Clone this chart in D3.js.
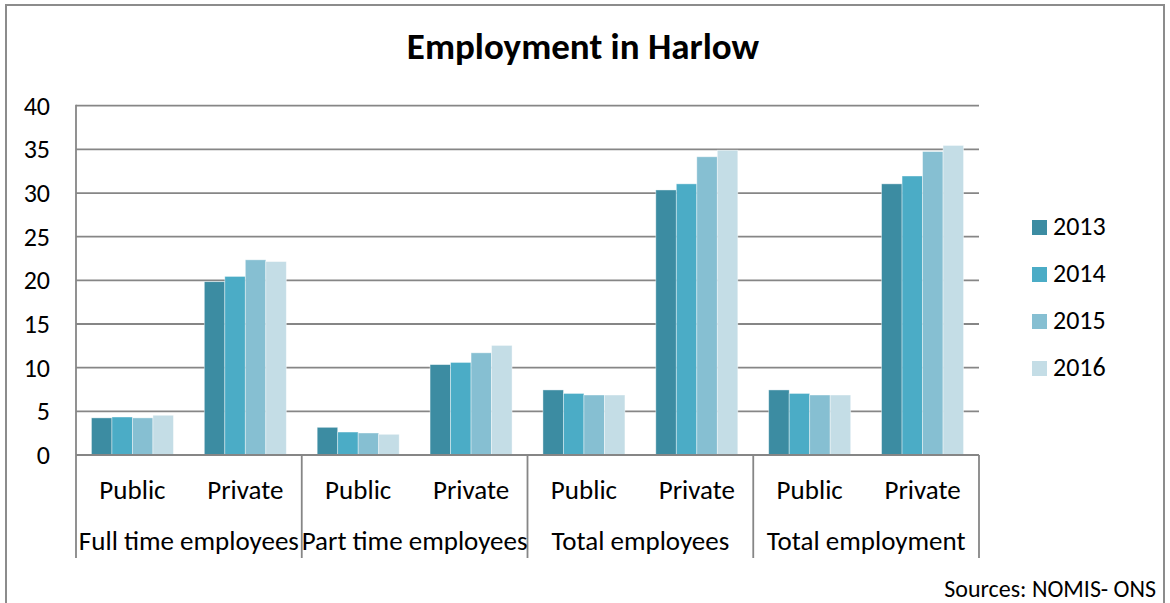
<!DOCTYPE html>
<html>
<head>
<meta charset="utf-8">
<script src="https://cdn.jsdelivr.net/npm/d3@7"></script>
<style>
  body { margin: 0; background: #fff; }
  svg text { font-family: Carlito, Lato, "Open Sans", sans-serif; fill: #000; }
</style>
</head>
<body>
<svg id="chart" width="1170" height="603"></svg>
<script>
// employment counts (thousands)
const groups = ["Full time employees", "Part time employees", "Total employees", "Total employment"]
const sectors = ["Public", "Private"]
const years = ["2013", "2014", "2015", "2016"]
const colors = ["#3c8ca2", "#4bacc6", "#86bfd2", "#c4dde6"]
const yTicks = [0, 5, 10, 15, 20, 25, 30, 35, 40]

// one array per year, order: group x sector
const v2013 = [4.25, 19.85, 3.17, 10.35, 7.45, 30.35, 7.45, 31.05]
const v2014 = [4.35, 20.45, 2.63, 10.6, 7.05, 31.05, 7.05, 31.95]
const v2015 = [4.25, 22.35, 2.52, 11.7, 6.87, 34.15, 6.87, 34.75]
const v2016 = [4.55, 22.15, 2.37, 12.55, 6.87, 34.9, 6.87, 35.45]
const series = [v2013, v2014, v2015, v2016]

const svg = d3.select("#chart")
const margin = {left: 76, right: 191, top: 105.7, bottom: 148}
const W = 1170, H = 603
const plotR = W - margin.right
const plotB = H - margin.bottom

// outer frame (bottom edge falls outside the picture)
svg.append("path")
  .attr("d", `M6,${H + 5}V5H1164V${H + 5}`)
  .attr("fill", "none").attr("stroke", "#8c8c8c").attr("stroke-width", 2)

svg.append("text")
  .attr("x", 583).attr("y", 59)
  .attr("text-anchor", "middle")
  .style("font-size", "37px").style("font-weight", "bold")
  .text("Employment in Harlow")

const y = d3.scaleLinear().domain([0, 40]).range([plotB, margin.top])
const xGroup = d3.scaleBand().domain(groups).range([margin.left, plotR])
const xSector = d3.scaleBand().domain(sectors).range([0, xGroup.bandwidth()])
const pad = (xSector.bandwidth() - 82) / 2
const xYear = d3.scaleBand().domain(years).range([pad, xSector.bandwidth() - pad])

// gridlines
svg.append("g")
  .selectAll("line").data(yTicks).join("line")
  .attr("x1", margin.left).attr("x2", plotR)
  .attr("y1", d => y(d)).attr("y2", d => y(d))
  .attr("stroke", "#868686").attr("stroke-width", 1.8)

const yAxis = svg.append("g")
  .attr("transform", `translate(${margin.left},0)`)
  .call(d3.axisLeft(y).tickValues(yTicks).tickSize(0).tickPadding(26))
yAxis.select(".domain").remove()
yAxis.selectAll("text").style("font-size", "26px")
  .attr("font-family", null)

// bars
const rows = []
groups.forEach((g, gi) => sectors.forEach((s, si) => {
  years.forEach((yr, yi) => rows.push({g, s, yr, yi, v: series[yi][gi * 2 + si]}))
}))

svg.append("g").selectAll("rect").data(rows).join("rect")
  .attr("x", d => xGroup(d.g) + xSector(d.s) + xYear(d.yr))
  .attr("width", xYear.bandwidth())
  .attr("y", d => y(d.v))
  .attr("height", d => y(0) - y(d.v))
  .attr("fill", d => colors[d.yi])
  .attr("stroke", "#ffffff").attr("stroke-opacity", 0.5).attr("stroke-width", 0.8)

// left axis line and category dividers
svg.append("line")
  .attr("x1", margin.left).attr("x2", margin.left)
  .attr("y1", margin.top - 1).attr("y2", plotB + 103)
  .attr("stroke", "#868686").attr("stroke-width", 1.8)
svg.append("line")
  .attr("x1", margin.left).attr("x2", plotR)
  .attr("y1", y(0)).attr("y2", y(0))
  .attr("stroke", "#868686").attr("stroke-width", 1.8)

const edges = groups.map(g => xGroup(g)).concat([plotR])
svg.append("g").selectAll("line").data(edges.slice(1)).join("line")
  .attr("x1", d => d).attr("x2", d => d)
  .attr("y1", plotB).attr("y2", plotB + 103)
  .attr("stroke", "#868686").attr("stroke-width", 1.8)

// sector labels
const subLabels = []
groups.forEach(g => sectors.forEach(s => subLabels.push({g, s})))
svg.append("g").selectAll("text").data(subLabels).join("text")
  .attr("x", d => xGroup(d.g) + xSector(d.s) + xSector.bandwidth() / 2)
  .attr("y", 499)
  .attr("text-anchor", "middle")
  .style("font-size", "27px")
  .text(d => d.s)

svg.append("g").selectAll("text").data(groups).join("text")
  .attr("x", d => xGroup(d) + xGroup.bandwidth() / 2)
  .attr("y", 550)
  .attr("text-anchor", "middle")
  .style("font-size", "27px")
  .text(d => d)

// legend
const legend = svg.append("g").selectAll("g").data(years).join("g")
  .attr("transform", (d, i) => `translate(1032,${220 + i * 47})`)
legend.append("rect")
  .attr("width", 15).attr("height", 15)
  .attr("fill", (d, i) => colors[i])
legend.append("text")
  .attr("x", 21).attr("y", 15)
  .style("font-size", "26px")
  .text(d => d)

svg.append("text")
  .attr("x", 1156).attr("y", 597)
  .attr("text-anchor", "end")
  .style("font-size", "24px")
  .text("Sources: NOMIS- ONS")
</script>
</body>
</html>
